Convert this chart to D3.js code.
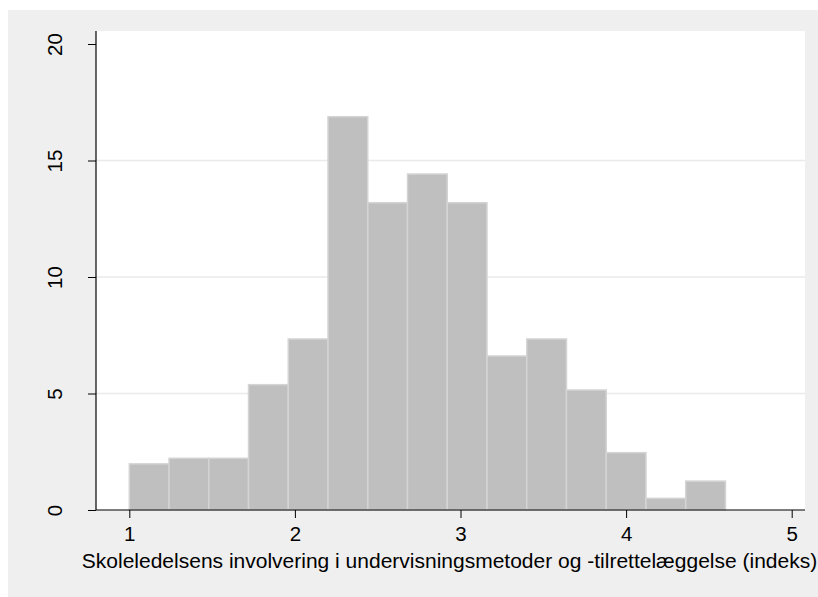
<!DOCTYPE html>
<html>
<head>
<meta charset="utf-8">
<script src="https://cdn.jsdelivr.net/npm/d3@7/dist/d3.min.js"></script>
<style>
  html, body { margin: 0; padding: 0; background: #ffffff; }
  svg { display: block; }
  text { font-family: "Liberation Sans", Arial, sans-serif; fill: #000; }
</style>
</head>
<body>
<svg id="chart" width="818" height="597"></svg>
<script>
// Histogram bins (lower edge), bin width and percent of schools per bin
const binStarts = [1.00, 1.24, 1.48, 1.72, 1.96, 2.20, 2.44, 2.68, 2.92, 3.16, 3.40, 3.64, 3.88, 4.12, 4.36];
const binWidth = 0.24;
const percents = [1.98, 2.22, 2.22, 5.38, 7.34, 16.88, 13.19, 14.42, 13.19, 6.61, 7.34, 5.15, 2.46, 0.50, 1.24];
const xTicks = [1, 2, 3, 4, 5];
const yTicks = [0, 5, 10, 15, 20];
const gridTicks = [5, 10, 15];
const xTitle = "Skoleledelsens involvering i undervisningsmetoder og -tilrettelæggelse (indeks)";

const svg = d3.select("#chart");

// Outer graph region
svg.append("rect")
  .attr("x", 8).attr("y", 10)
  .attr("width", 810).attr("height", 587)
  .attr("fill", "#efefef");

// Plot region
const plot = { left: 96, top: 31, right: 805, bottom: 510 };
svg.append("rect")
  .attr("x", plot.left).attr("y", plot.top)
  .attr("width", plot.right - plot.left).attr("height", plot.bottom - plot.top)
  .attr("fill", "#ffffff");

const x = d3.scaleLinear().domain([1, 5]).range([129.3, 791.7]);
const y = d3.scaleLinear().domain([0, 20]).range([510, 44]);

// Horizontal grid lines
svg.append("g").selectAll("line").data(gridTicks).join("line")
  .attr("x1", plot.left).attr("x2", plot.right)
  .attr("y1", d => y(d)).attr("y2", d => y(d))
  .attr("stroke", "#eaeaea").attr("stroke-width", 1.5);

// Bars
svg.append("g").selectAll("rect").data(percents).join("rect")
  .attr("x", (d, i) => x(binStarts[i]))
  .attr("width", (d, i) => x(binStarts[i] + binWidth) - x(binStarts[i]))
  .attr("y", d => y(d))
  .attr("height", d => y(0) - y(d))
  .attr("fill", "#bfbfbf")
  .attr("stroke", "#d4d4d4")
  .attr("stroke-width", 1.5);

// Y axis
const yAxis = d3.axisLeft(y).tickValues(yTicks).tickSize(8).tickPadding(0).tickFormat(d3.format("d"));
const gy = svg.append("g").attr("transform", `translate(${plot.left},0)`).call(yAxis);
gy.select(".domain").remove();
gy.selectAll(".tick line").attr("stroke", "#000");
gy.selectAll(".tick text")
  .attr("font-size", 20.5)
  .attr("transform", "translate(-42,0) rotate(-90)")
  .attr("x", 0).attr("dy", 0).attr("y", 0)
  .attr("text-anchor", "middle")
  .attr("dominant-baseline", "central")
  .attr("font-family", "Liberation Sans, Arial, sans-serif");
gy.append("line")
  .attr("x1", 0).attr("x2", 0)
  .attr("y1", plot.top).attr("y2", plot.bottom)
  .attr("stroke", "#000").attr("stroke-width", 1.2);

// X axis
const xAxis = d3.axisBottom(x).tickValues(xTicks).tickSize(8).tickPadding(8).tickFormat(d3.format("d"));
const gx = svg.append("g").attr("transform", `translate(0,${plot.bottom})`).call(xAxis);
gx.select(".domain").remove();
gx.selectAll(".tick line").attr("stroke", "#000");
gx.selectAll(".tick text")
  .attr("font-size", 20.5)
  .attr("font-family", "Liberation Sans, Arial, sans-serif");
gx.append("line")
  .attr("x1", plot.left).attr("x2", plot.right)
  .attr("y1", 0).attr("y2", 0)
  .attr("stroke", "#000").attr("stroke-width", 1.2);

// X axis title
svg.append("text")
  .attr("x", 449.5)
  .attr("y", 568)
  .attr("text-anchor", "middle")
  .attr("font-size", 21)
  .text(xTitle);
</script>
</body>
</html>
